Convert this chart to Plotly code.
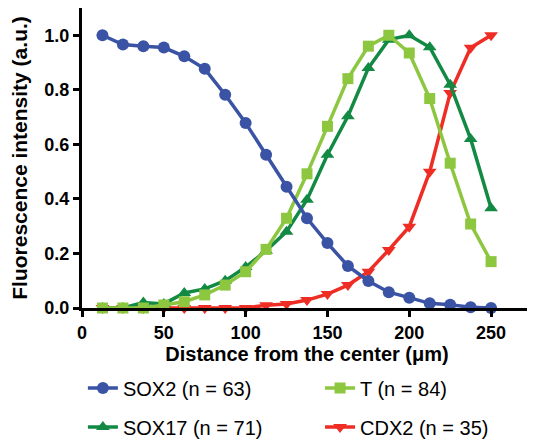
import plotly.graph_objects as go

distance = [12.5, 25, 37.5, 50, 62.5, 75, 87.5, 100, 112.5, 125, 137.5, 150,
            162.5, 175, 187.5, 200, 212.5, 225, 237.5, 250]

sox2 = [1.0, 0.966, 0.96, 0.955, 0.923, 0.877, 0.782, 0.678, 0.562, 0.445,
        0.329, 0.238, 0.154, 0.099, 0.058, 0.038, 0.017, 0.012, 0.003, 0.0]
t_vals = [0.0, 0.0, 0.0, 0.011, 0.023, 0.048, 0.084, 0.133, 0.215, 0.329,
          0.492, 0.666, 0.841, 0.96, 1.0, 0.935, 0.768, 0.531, 0.308, 0.170]
sox17 = [0.0, 0.0, 0.02, 0.015, 0.055, 0.07, 0.10, 0.15, 0.21, 0.28,
         0.397, 0.562, 0.703, 0.88, 0.984, 1.0, 0.956, 0.819, 0.62, 0.366]
cdx2 = [0.0, 0.0, 0.0, 0.0, 0.0, 0.0, 0.0, 0.0, 0.01, 0.015,
        0.029, 0.051, 0.084, 0.133, 0.213, 0.298, 0.50, 0.788, 0.954, 1.0]

names = ["SOX2 (n = 63)", "T (n = 84)", "SOX17 (n = 71)", "CDX2 (n = 35)"]
x_ticks = [0, 50, 100, 150, 200, 250]
y_ticks = [0.0, 0.2, 0.4, 0.6, 0.8, 1.0]

FONT = "Liberation Sans, Arial, sans-serif"

fig = go.Figure()

# drawing order (bottom to top): CDX2, SOX17, T, SOX2
specs = [
    (cdx2, names[3], "#EE2D24", "triangle-down", "legend4"),
    (sox17, names[2], "#138A43", "triangle-up", "legend3"),
    (t_vals, names[1], "#8DC63F", "square", "legend2"),
    (sox2, names[0], "#3A53A4", "circle", "legend"),
]
for y, name, color, sym, leg in specs:
    fig.add_trace(go.Scatter(
        x=distance, y=y, name=name, mode="lines+markers",
        line=dict(color=color, width=3.5),
        marker=dict(symbol=sym, size=12 if sym != "square" else 11, color=color),
        cliponaxis=False, legend=leg,
    ))

axis_common = dict(
    showline=True, linecolor="black", linewidth=3, mirror=True,
    ticks="outside", ticklen=6, tickwidth=3, tickcolor="black",
    showgrid=False, zeroline=False, automargin=False,
    tickfont=dict(family=FONT, size=18, color="black", weight="bold"),
)

fig.update_xaxes(
    range=[0, 275], tickvals=x_ticks,
    title=dict(text="Distance from the center (μm)", standoff=6,
               font=dict(family=FONT, size=20, color="black", weight="bold")),
    **axis_common,
)
fig.update_yaxes(
    range=[0, 1.1], tickvals=y_ticks, tickformat=".1f",
    title=dict(text="Fluorescence intensity (a.u.)", standoff=12,
               font=dict(family=FONT, size=21, color="black", weight="bold")),
    **axis_common,
)

leg_common = dict(
    orientation="h", xanchor="left", yanchor="middle",
    font=dict(family=FONT, size=20, color="black"),
    bgcolor="rgba(0,0,0,0)",
)
row1, row2 = -0.267, -0.397
col1, col2 = 0.002, 0.529
fig.update_layout(
    width=527, height=435,
    margin=dict(l=74, r=3, t=0, b=135, autoexpand=False),
    paper_bgcolor="white", plot_bgcolor="white",
    legend=dict(x=col1, y=row1, **leg_common),
    legend2=dict(x=col2, y=row1, **leg_common),
    legend3=dict(x=col1, y=row2, **leg_common),
    legend4=dict(x=col2, y=row2, **leg_common),
    showlegend=True,
)

fig.write_html("out.html")
